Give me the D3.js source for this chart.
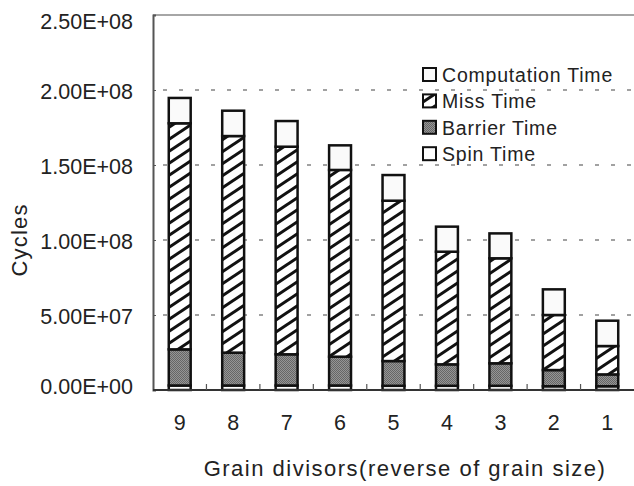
<!DOCTYPE html>
<html>
<head>
<meta charset="utf-8">
<script src="https://cdn.jsdelivr.net/npm/d3@7"></script>
<style>
  html, body { margin: 0; padding: 0; background: #fff; }
  svg { display: block; }
  text { font-family: "Liberation Sans", Arial, sans-serif; fill: #222; }
</style>
</head>
<body>
<svg id="chart" width="634" height="486"></svg>
<script>
const categories = ["9", "8", "7", "6", "5", "4", "3", "2", "1"];
const seriesNames = ["Spin Time", "Barrier Time", "Miss Time", "Computation Time"];
const spinTime        = [3.0e6, 3.0e6, 3.0e6, 3.0e6, 2.8e6, 2.8e6, 2.8e6, 2.5e6, 2.5e6];
const barrierTime     = [24.1e6, 21.9e6, 20.8e6, 19.2e6, 16.5e6, 14.3e6, 15.0e6, 10.8e6, 7.9e6];
const missTime        = [150.7e6, 144.4e6, 138.4e6, 124.5e6, 106.9e6, 75.1e6, 70.0e6, 36.7e6, 18.9e6];
const computationTime = [16.9e6, 16.9e6, 17.1e6, 16.4e6, 17.1e6, 16.7e6, 16.6e6, 17.1e6, 16.9e6];
const yTicks = [0, 5e7, 1e8, 1.5e8, 2e8, 2.5e8];
const yTickLabels = ["0.00E+00", "5.00E+07", "1.00E+08", "1.50E+08", "2.00E+08", "2.50E+08"];
const legendOrder = ["Computation Time", "Miss Time", "Barrier Time", "Spin Time"];

const svg = d3.select("#chart");
const pLeft = 153, pRight = 634, pTop = 15, pBottom = 390;

const x = d3.scaleBand().domain(categories).range([pLeft, pRight]).paddingInner(0.59).paddingOuter(0.295);
const y = d3.scaleLinear().domain([0, 2.5e8]).range([pBottom, pTop]);

// patterns
const defs = svg.append("defs");
const hatch = defs.append("pattern").attr("id", "hatch").attr("patternUnits", "userSpaceOnUse")
  .attr("width", 18).attr("height", 12);
hatch.append("rect").attr("width", 18).attr("height", 12).attr("fill", "#fff");
hatch.append("path").attr("d", "M-9,6 L9,-6 M0,12 L18,0 M9,18 L27,6")
  .attr("stroke", "#111").attr("stroke-width", 3);
const dots = defs.append("pattern").attr("id", "dots").attr("patternUnits", "userSpaceOnUse")
  .attr("width", 2).attr("height", 2);
dots.append("rect").attr("width", 2).attr("height", 2).attr("fill", "#959595");
dots.append("rect").attr("width", 1).attr("height", 1).attr("fill", "#666");
dots.append("rect").attr("x", 1).attr("y", 1).attr("width", 1).attr("height", 1).attr("fill", "#666");

const fills = {
  "Spin Time": "#ffffff",
  "Barrier Time": "url(#dots)",
  "Miss Time": "url(#hatch)",
  "Computation Time": "#fafafa"
};

// gridlines
svg.append("g").selectAll("line").data(yTicks.filter(v => v > 0 && v < 2.5e8)).join("line")
  .attr("x1", pLeft).attr("x2", pRight).attr("y1", d => y(d)).attr("y2", d => y(d))
  .attr("stroke", "#444").attr("stroke-width", 1.2).attr("stroke-dasharray", "4,12")
  .attr("stroke-dashoffset", -10);

// top border
svg.append("line").attr("x1", pLeft).attr("x2", pRight).attr("y1", pTop).attr("y2", pTop)
  .attr("stroke", "#888").attr("stroke-width", 1.6);

// stacked data
const rows = categories.map((c, i) => ({
  cat: c,
  "Spin Time": spinTime[i],
  "Barrier Time": barrierTime[i],
  "Miss Time": missTime[i],
  "Computation Time": computationTime[i]
}));
const stack = d3.stack().keys(seriesNames)(rows);

const gBars = svg.append("g");
stack.forEach(layer => {
  gBars.append("g").selectAll("rect").data(layer).join("rect")
    .attr("x", d => x(d.data.cat))
    .attr("width", x.bandwidth())
    .attr("y", d => y(d[1]))
    .attr("height", d => y(d[0]) - y(d[1]))
    .attr("fill", fills[layer.key])
    .attr("stroke", "#111")
    .attr("stroke-width", 2.5);
});

// axes
const yAxis = d3.axisLeft(y).tickValues(yTicks).tickFormat((d, i) => yTickLabels[i]).tickSize(-3).tickPadding(20);
const gy = svg.append("g").attr("transform", `translate(${pLeft},0)`).call(yAxis);
gy.select(".domain").attr("stroke", "#555").attr("stroke-width", 2);
gy.selectAll(".tick line").attr("stroke", "#555");
gy.selectAll(".tick text").attr("font-size", 21.5).attr("fill", "#222")
  .attr("dy", (d) => d === 2.5e8 ? "0.62em" : (d === 0 ? "0.15em" : "0.4em"));

svg.append("line").attr("x1", pLeft).attr("x2", pRight).attr("y1", pBottom).attr("y2", pBottom)
  .attr("stroke", "#333").attr("stroke-width", 2);

// x tick marks between categories
const step = x.step();
const boundaries = categories.slice(1).map(c => x(c) - (step - x.bandwidth()) / 2);
svg.append("g").selectAll("line").data(boundaries).join("line")
  .attr("x1", d => d).attr("x2", d => d).attr("y1", pBottom).attr("y2", pBottom - 6)
  .attr("stroke", "#555").attr("stroke-width", 1.2);

// x labels
svg.append("g").selectAll("text").data(categories).join("text")
  .attr("x", d => x(d) + x.bandwidth() / 2).attr("y", 430)
  .attr("text-anchor", "middle").attr("font-size", 21.5).text(d => d);

// axis titles
svg.append("text").attr("x", 405).attr("y", 476).attr("text-anchor", "middle")
  .attr("font-size", 22).attr("letter-spacing", "1.5px").text("Grain divisors(reverse of grain size)");
svg.append("text").attr("transform", "translate(27,240) rotate(-90)").attr("text-anchor", "middle")
  .attr("font-size", 22).attr("letter-spacing", "1.2px").text("Cycles");

// legend
const legend = svg.append("g");
legendOrder.forEach((name, i) => {
  const cy = 75 + i * 26.4;
  legend.append("rect").attr("x", 423).attr("y", cy - 7).attr("width", 13).attr("height", 13)
    .attr("fill", name === "Miss Time" ? "url(#hatch)" : fills[name]).attr("stroke", "#111").attr("stroke-width", 2);
  legend.append("text").attr("x", 442).attr("y", cy).attr("dy", "0.36em")
    .attr("font-size", 19.5).attr("letter-spacing", "0.8px").text(name);
});
</script>
</body>
</html>
